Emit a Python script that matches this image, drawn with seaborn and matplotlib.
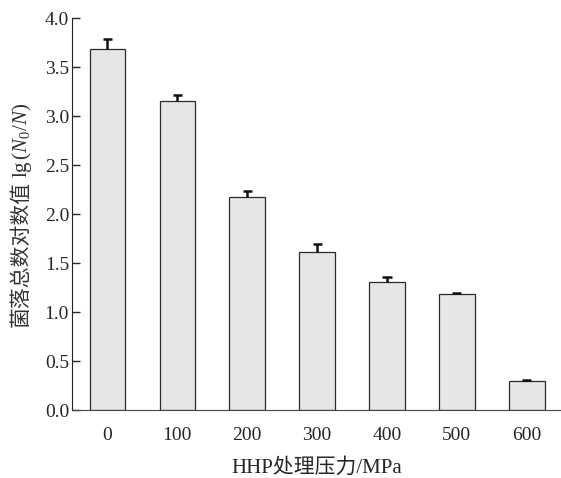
import numpy as np
import pandas as pd
import seaborn as sns
import matplotlib.pyplot as plt

# 数据
pressure = ["0", "100", "200", "300", "400", "500", "600"]
log_reduction = [3.69, 3.15, 2.18, 1.61, 1.31, 1.18, 0.30]
err_upper = [0.10, 0.07, 0.06, 0.09, 0.05, 0.02, 0.01]
y_ticks = [0.0, 0.5, 1.0, 1.5, 2.0, 2.5, 3.0, 3.5, 4.0]

sns.set_style("ticks")
plt.rcParams["font.family"] = ["Liberation Serif", "Noto Sans CJK SC"]
plt.rcParams["mathtext.fontset"] = "custom"
plt.rcParams["mathtext.rm"] = "Liberation Serif"
plt.rcParams["mathtext.it"] = "Liberation Serif:italic"

df = pd.DataFrame({"pressure": pressure, "value": log_reduction})

fig = plt.figure(figsize=(5.61, 4.78), dpi=100)
ax = fig.add_axes([0.128, 0.142, 0.872, 0.82])

sns.barplot(data=df, x="pressure", y="value", color="#e6e6e8", saturation=1,
            edgecolor="#2a2a2a", linewidth=0.9, width=0.51, errorbar=None, ax=ax)

# 只画上侧误差线
x = np.arange(len(pressure))
tops = np.array(log_reduction) + np.array(err_upper)
ax.vlines(x, log_reduction, tops, color="#111111", linewidth=1.8)
ax.hlines(tops, x - 0.065, x + 0.065, color="#111111", linewidth=1.8)

ax.set_xlim(-0.51, 6.49)
ax.set_ylim(0, 4.0)
ax.set_yticks(y_ticks)
ax.set_yticklabels([f"{v:.1f}" for v in y_ticks])

ax.tick_params(axis="y", direction="in", length=6, width=1, pad=2, labelsize=14)
ax.tick_params(axis="x", length=0, pad=12, labelsize=14)

ax.spines["top"].set_visible(False)
ax.spines["right"].set_visible(False)
ax.spines["left"].set_color("#222222")
ax.spines["bottom"].set_color("#444444")

ax.set_xlabel("HHP处理压力/MPa", fontsize=15, labelpad=10)
ax.set_ylabel("")

# y轴标题：中文和公式分两段拼接
fig.canvas.draw()
r = fig.canvas.get_renderer()
base_x = 27 / 561
t1 = fig.text(base_x, 0, "菌落总数对数值", rotation=90, rotation_mode="anchor",
              ha="left", va="baseline", fontsize=15, color="#333333",
              family=["Noto Sans CJK SC"])
t2 = fig.text(base_x, 0, r"lg$\,(N_0/N)$", rotation=90, rotation_mode="anchor",
              ha="left", va="baseline", fontsize=15, color="#333333")
h1 = t1.get_window_extent(r).height
h2 = t2.get_window_extent(r).height
fig_h = fig.bbox.height
center = fig_h - 215
start = center - (h1 + h2 + 3) / 2
t1.set_y(start / fig_h)
t2.set_y((start + h1 + 3) / fig_h)

fig.savefig("out.png", dpi=100)
